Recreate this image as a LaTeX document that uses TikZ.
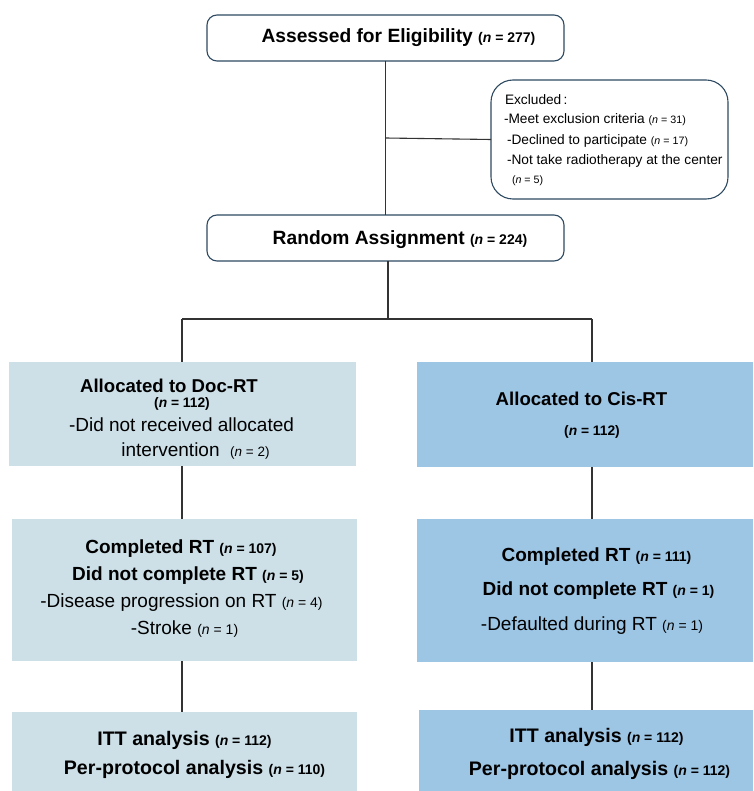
\documentclass[tikz,border=0pt]{standalone}
\usepackage{fontspec}
\setmainfont{Liberation Sans}
\newcommand{\fs}[1]{\fontsize{#1}{#1}\selectfont}
\newcommand{\nv}[2]{{\fs{#1}(\textit{n} = #2)}}
\definecolor{bordc}{HTML}{2E4A62}
\definecolor{docc}{HTML}{CDE0E8}
\definecolor{cisc}{HTML}{9DC5E4}
\definecolor{linec}{HTML}{333333}
\begin{document}
\begin{tikzpicture}[x=1pt,y=-1pt,
  rbox/.style={draw=bordc,line width=1.1pt,rounded corners=10pt,fill=white,inner sep=0pt,outer sep=0pt},
  ebox/.style={draw=bordc,line width=1.1pt,rounded corners=22pt,fill=white,inner sep=0pt,outer sep=0pt},
  docbox/.style={fill=docc,inner sep=0pt,outer sep=0pt},
  cisbox/.style={fill=cisc,inner sep=0pt,outer sep=0pt},
  txt/.style={inner sep=0pt,outer sep=0pt,anchor=center},
  ltxt/.style={inner sep=0pt,outer sep=0pt,anchor=west},
  conn/.style={draw=linec,line width=1.1pt}]
\useasboundingbox (0,0) rectangle (753,791);
% boxes
\node[rbox,minimum width=357pt,minimum height=46pt] (top) at (385.5,38) {};
\node[ebox,minimum width=237pt,minimum height=119pt] (excl) at (609.5,139.5) {};
\node[rbox,minimum width=357pt,minimum height=46pt] (rand) at (385.5,238) {};
\node[docbox,minimum width=347pt,minimum height=104pt] (docA) at (182.5,414) {};
\node[cisbox,minimum width=336pt,minimum height=105pt] (cisA) at (585,414.5) {};
\node[docbox,minimum width=345pt,minimum height=142pt] (docB) at (184.5,590) {};
\node[cisbox,minimum width=336pt,minimum height=143pt] (cisB) at (585,590.5) {};
\node[docbox,minimum width=345pt,minimum height=79pt] (docC) at (184.5,751.5) {};
\node[cisbox,minimum width=334pt,minimum height=81pt] (cisC) at (586,750.5) {};
% texts
\node[txt] (t1) at (398.5,38) {\fs{19.2}\bfseries Assessed for Eligibility \nv{14}{277}};
\node[ltxt] (e0) at (505,100) {\fs{13.7}Excluded\,:};
\node[ltxt] (e1) at (504,120) {\fs{13.7}-Meet exclusion criteria \nv{10.7}{31}};
\node[ltxt] (e2) at (507,141) {\fs{13.7}-Declined to participate \nv{10.7}{17}};
\node[ltxt] (e3) at (507,161) {\fs{13.7}-Not take radiotherapy at the center};
\node[ltxt] (e4) at (512,181) {\nv{10.7}{5}};
\node[txt] (t2) at (400,240) {\fs{19.2}\bfseries Random Assignment \nv{14}{224}};
\node[txt] (d1) at (169,386) {\fs{18.6}\bfseries Allocated to Doc-RT};
\node[txt] (d2) at (182,404) {\fs{13.8}\bfseries(\textit{n} = 112)};
\node[txt] (d3) at (181.5,425) {\fs{19}-Did not received allocated};
\node[txt] (d4) at (195.5,451) {\fs{19}intervention \ \nv{13.5}{2}};
\node[txt] (c1) at (581.5,399) {\fs{18.6}\bfseries Allocated to Cis-RT};
\node[txt] (c2) at (592,432) {\fs{13.8}\bfseries(\textit{n} = 112)};
\node[txt] (d5) at (181,549) {\fs{19}\bfseries Completed RT \nv{14}{107}};
\node[txt] (d6) at (188,576) {\fs{19}\bfseries Did not complete RT \nv{14}{5}};
\node[txt] (d7) at (181.5,603) {\fs{19}-Disease progression on RT \nv{14}{4}};
\node[txt] (d8) at (184.5,629) {\fs{19}-Stroke \nv{14}{1}};
\node[txt] (c3) at (596.5,557) {\fs{19}\bfseries Completed RT \nv{14}{111}};
\node[txt] (c4) at (598.5,591) {\fs{19}\bfseries Did not complete RT \nv{14}{1}};
\node[txt] (c5) at (592,626) {\fs{19}-Defaulted during RT \nv{14}{1}};
\node[txt] (d9) at (184.5,740) {\fs{19.6}\bfseries ITT analysis \nv{14}{112}};
\node[txt] (d10) at (194.5,769) {\fs{19.6}\bfseries Per-protocol analysis \nv{14}{110}};
\node[txt] (c6) at (596.5,737) {\fs{19.6}\bfseries ITT analysis \nv{14}{112}};
\node[txt] (c7) at (599.5,770) {\fs{19.6}\bfseries Per-protocol analysis \nv{14}{112}};
% connector points
\coordinate (sp) at (385.5,138);
\coordinate (rs) at (388,261);
\coordinate (mid) at (388,319);
\coordinate (L) at (182,319);
\coordinate (R) at (592,319);
\coordinate (La) at (182,466);
\coordinate (Ra) at (592,467);
\coordinate (Lb) at (182,661);
\coordinate (Rb) at (592,662);
% connectors
\draw[conn] (top.south) -- (rand.north);
\draw[conn] (sp) -- (excl.west);
\draw[conn] (rs) -- (mid);
\draw[conn] (L) -- (R);
\draw[conn] (L) -- (L |- docA.north);
\draw[conn] (R) -- (R |- cisA.north);
\draw[conn] (La) -- (La |- docB.north);
\draw[conn] (Ra) -- (Ra |- cisB.north);
\draw[conn] (Lb) -- (Lb |- docC.north);
\draw[conn] (Rb) -- (Rb |- cisC.north);
\end{tikzpicture}
\end{document}
